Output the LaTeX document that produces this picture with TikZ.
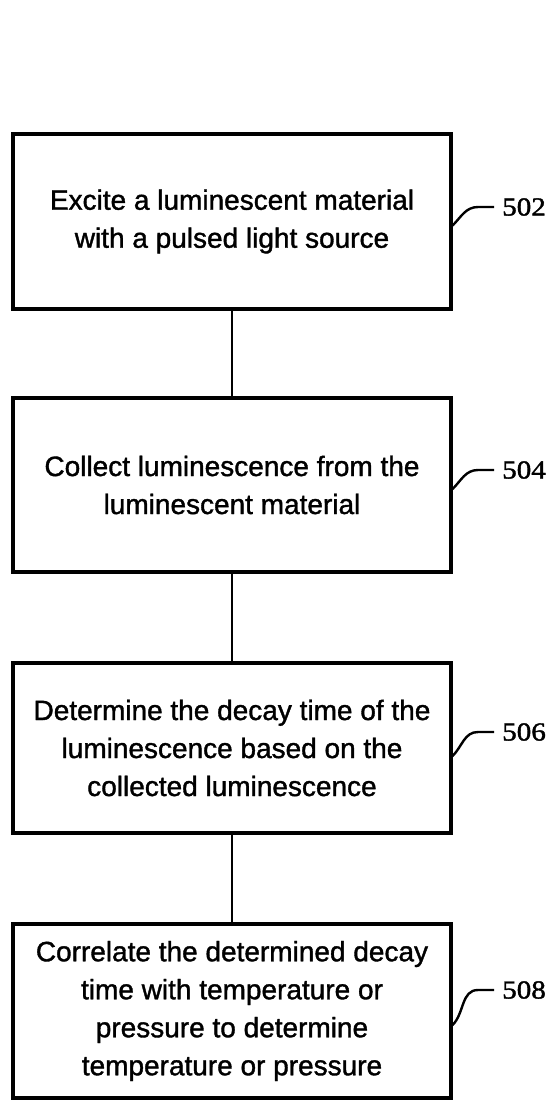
\documentclass[tikz,border=0pt]{standalone}
\usepackage{fontspec}
\setmainfont[FakeBold=1.3]{Liberation Sans}
\newfontfamily\lblfont[FakeStretch=1.12,FakeBold=1.5]{Liberation Serif}
\begin{document}
\begin{tikzpicture}[x=1pt,y=-1pt,
  stepbox/.style={draw=black,line width=3.2pt,minimum width=438pt,align=center,
    inner sep=0pt,font=\fontsize{28}{38}\selectfont},
  conn/.style={draw=black,line width=1.6pt},
  leader/.style={draw=black,line width=2.4pt},
  lbl/.style={anchor=west,inner sep=0pt,font=\lblfont\fontsize{26}{26}\selectfont}]
\useasboundingbox (0,0) rectangle (549,1100);
\node[stepbox,minimum height=175pt] (b1) at (232,221.5) {Excite a luminescent material\\with a pulsed light source};
\node[stepbox,minimum height=174pt] (b2) at (232,485) {Collect luminescence from the\\luminescent material};
\node[stepbox,minimum height=170pt] (b3) at (232,748) {Determine the decay time of the\\luminescence based on the\\collected luminescence};
\node[stepbox,minimum height=174pt] (b4) at (232,1011) {Correlate the determined decay\\time with temperature or\\pressure to determine\\temperature or pressure};
\draw[conn] (b1.south) -- (b2.north);
\draw[conn] (b2.south) -- (b3.north);
\draw[conn] (b3.south) -- (b4.north);
% labels
\node[lbl] (l1) at (502,207) {502};
\node[lbl] (l2) at (502,470) {504};
\node[lbl] (l3) at (502,732) {506};
\node[lbl] (l4) at (502,990) {508};
\coordinate (a1) at ([yshift=-4pt]b1.east);
\coordinate (a2) at ([yshift=-4pt]b2.east);
\coordinate (a3) at ([yshift=-8pt]b3.east);
\coordinate (a4) at ([yshift=-14pt]b4.east);
\coordinate (e1) at (494,207);
\coordinate (e2) at (494,470);
\coordinate (e3) at (494,732);
\coordinate (e4) at (494,990);
\draw[leader] (a1) to[out=45,in=180] ([xshift=-16pt]e1) -- (e1);
\draw[leader] (a2) to[out=45,in=180] ([xshift=-16pt]e2) -- (e2);
\draw[leader] (a3) to[out=45,in=180] ([xshift=-16pt]e3) -- (e3);
\draw[leader] (a4) to[out=45,in=180] ([xshift=-16pt]e4) -- (e4);
\end{tikzpicture}
\end{document}
